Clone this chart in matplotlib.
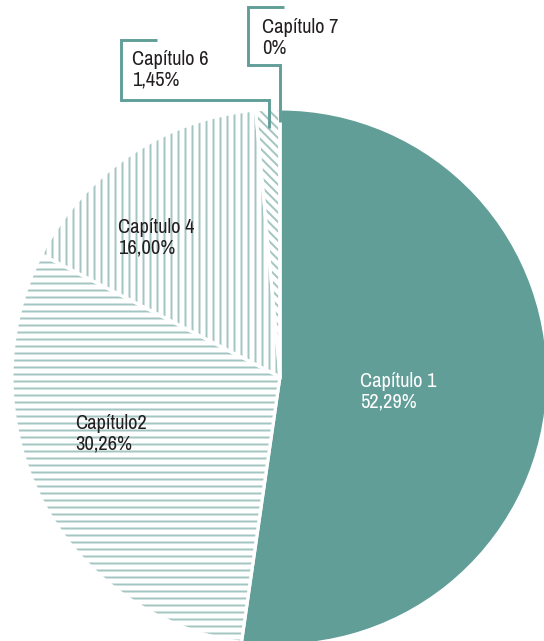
import numpy as np
import matplotlib as mpl
import matplotlib.pyplot as plt
from matplotlib import font_manager

mpl.use('Agg')

# data
capitulos = ['Capítulo 1', 'Capítulo2', 'Capítulo 4', 'Capítulo 6', 'Capítulo 7']
porcentajes = [52.29, 30.26, 16.00, 1.45, 0.0]
etiquetas_pct = ['52,29%', '30,26%', '16,00%', '1,45%', '0%']

TEAL = '#629e98'
HATCH = '#a3c6c2'
TEXTO = '#231f20'

# layout in pixels (image 544x641, pie centre and radius)
W, H = 544, 641
CX, CY, R = 280, 377, 268
DPI = 84

mpl.rcParams['hatch.linewidth'] = 1.7

# look for a narrow font, the original uses a condensed typeface
candidatas = []
for f in font_manager.fontManager.ttflist:
    nombre = (f.name + ' ' + str(f.stretch)).lower()
    if ('narrow' in nombre or 'condensed' in nombre) and f.style == 'normal' \
            and f.weight in (400, 'normal', 'regular'):
        candidatas.append(f)
candidatas.sort(key=lambda f: 0 if 'narrow' in f.name.lower() else 1)
if candidatas:
    fuente = dict(fname=candidatas[0].fname)
    tam = 17.5
else:
    fuente = dict(family='DejaVu Sans')
    tam = 13


def px(x):
    return (x - CX) / R


def py(y):
    return (CY - y) / R


fig = plt.figure(figsize=(W / DPI, H / DPI), dpi=DPI)
ax = fig.add_axes([0, 0, 1, 1])

estilos = [(TEAL, TEAL, None), ('white', HATCH, '--'), ('white', HATCH, '||'),
           ('white', HATCH, '\\\\\\'), ('white', HATCH, '')]

wedges, _ = ax.pie(porcentajes, startangle=90, counterclock=False, radius=1,
                   wedgeprops=dict(linewidth=0))
for w, (fc, ec, hatch) in zip(wedges, estilos):
    w.set_facecolor(fc)
    w.set_edgecolor(ec)
    w.set_linewidth(0)
    if hatch:
        w.set_hatch(hatch)

# white separators between slices
ax.pie(porcentajes, startangle=90, counterclock=False, radius=1,
       wedgeprops=dict(facecolor='none', edgecolor='white', linewidth=2.6))

ax.set_xlim(px(0), px(W))
ax.set_ylim(py(H), py(0))
ax.set_aspect('equal')
ax.axis('off')

# labels: (left x, first baseline y) in pixels
pos_labels = [(360, 387), (75, 429), (118, 233), (132, 65), (262, 33)]
for i, (lx, ly) in enumerate(pos_labels):
    col = 'white' if i == 0 else TEXTO
    fp = font_manager.FontProperties(size=tam, **fuente)
    ax.text(px(lx), py(ly), capitulos[i], ha='left', va='baseline',
            fontproperties=fp, color=col)
    ax.text(px(lx), py(ly + 21), etiquetas_pct[i], ha='left', va='baseline',
            fontproperties=fp, color=col)

# callout lines for the small slices, ending at the slice
callouts = {3: [(157, 40), (121, 40), (121, 100)], 4: [(284, 7), (248, 7), (248, 65)]}
fin_r = {3: 0.93, 4: 0.95}
for i, pts in callouts.items():
    w = wedges[i]
    ang = np.deg2rad((w.theta1 + w.theta2) / 2)
    ex, ey = fin_r[i] * np.cos(ang), fin_r[i] * np.sin(ang)
    xs = [px(p[0]) for p in pts] + [ex, ex]
    ys = [py(p[1]) for p in pts] + [py(pts[-1][1]), ey]
    ax.plot(xs, ys, color=TEAL, linewidth=2.5, solid_joinstyle='miter',
            solid_capstyle='butt')

fig.savefig('out.png', dpi=DPI)
